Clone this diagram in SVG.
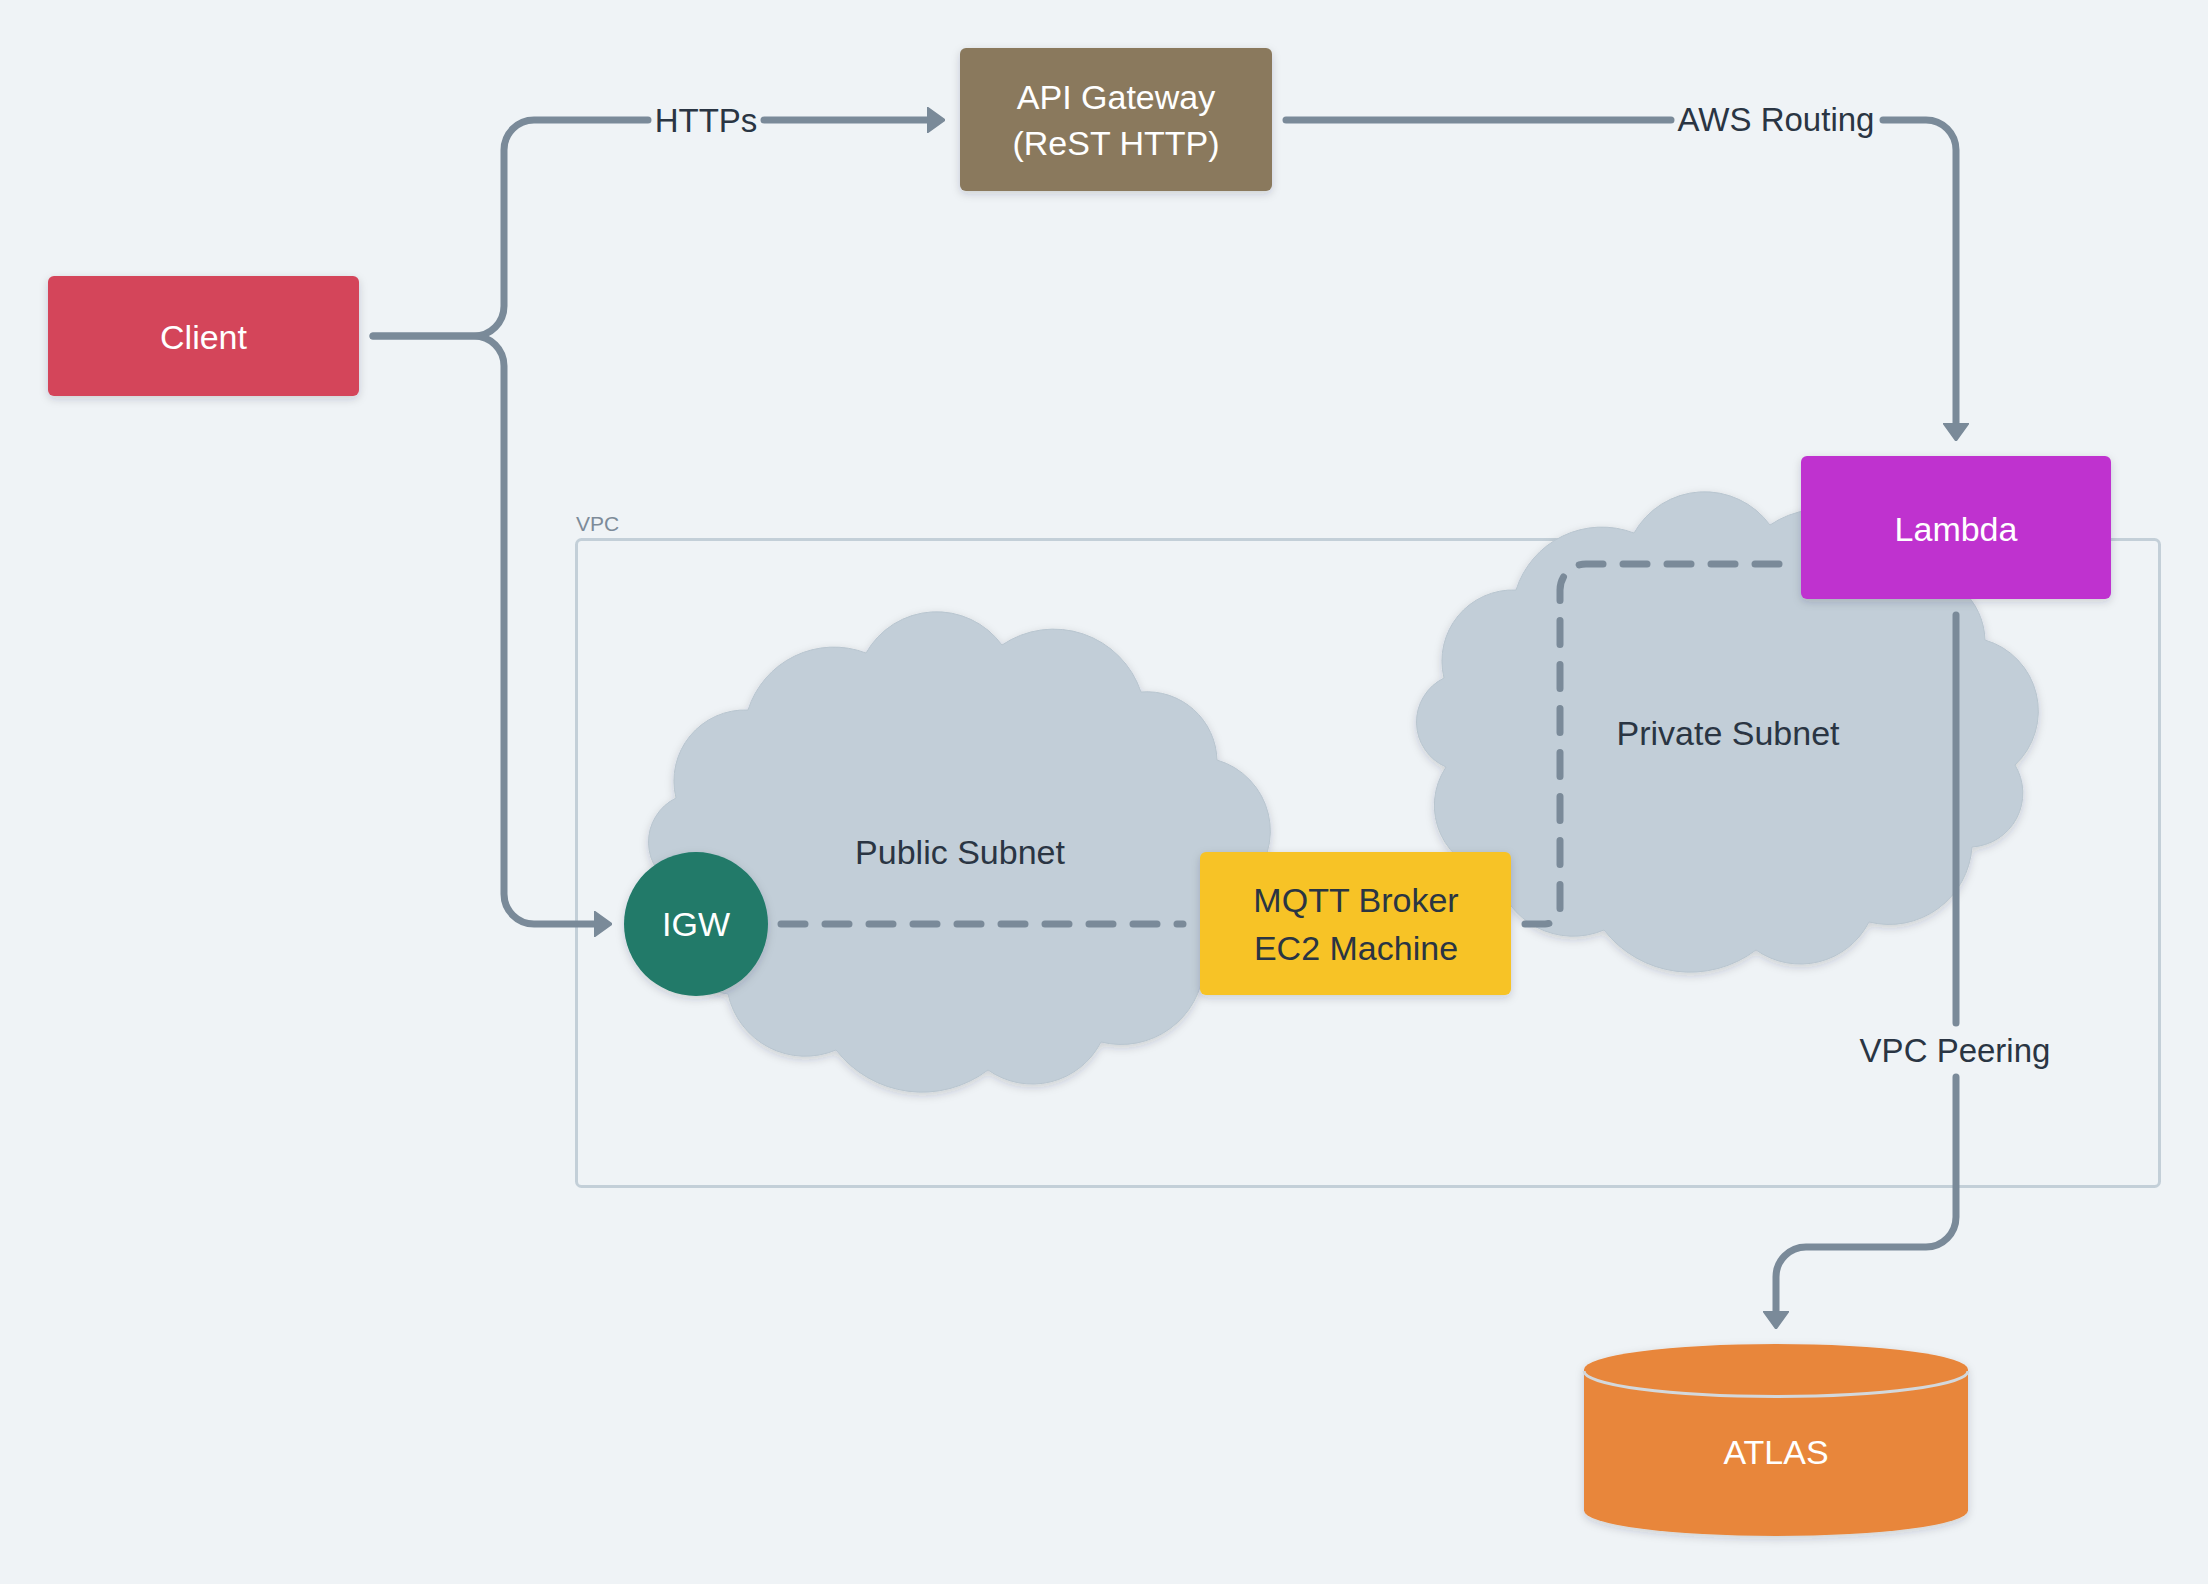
<svg xmlns="http://www.w3.org/2000/svg" xmlns:xlink="http://www.w3.org/1999/xlink" width="2208" height="1584" viewBox="0 0 2208 1584">
<defs>
<style>
.lbl{font-family:"Liberation Sans",Arial,sans-serif;font-size:34px;text-anchor:middle;fill:#2a3543}
.wht{fill:#ffffff}
.elbl{font-family:"Liberation Sans",Arial,sans-serif;font-size:33px;text-anchor:middle;fill:#2a3543}
.vpclbl{font-family:"Liberation Sans",Arial,sans-serif;font-size:21px;fill:#7d8b99}
.conn{fill:none;stroke:#7a8a99;stroke-width:7;stroke-linecap:round;stroke-linejoin:round}
.dash{stroke-dasharray:24 20}
.cloud{fill:#c2ced8;stroke:#b8c5cf;stroke-width:1}
</style>
<filter id="sh" x="-15%" y="-15%" width="130%" height="140%">
<feDropShadow dx="0" dy="3" stdDeviation="4" flood-color="#1f2a36" flood-opacity="0.18"/>
</filter>
<marker id="arr" markerUnits="userSpaceOnUse" viewBox="0 0 18 26" refX="12" refY="13" markerWidth="18" markerHeight="26" orient="auto">
<path d="M0,0 L18,13 L0,26 Z" fill="#7a8a99" stroke="#7a8a99" stroke-width="1.5" stroke-linejoin="round"/>
</marker>
<path id="cloudShape" d="M 866 653 A 81 81 0 0 1 1002 645 A 92 92 0 0 1 1141 692 A 70 70 0 0 1 1217 760 A 74 74 0 0 1 1247 885 A 54 54 0 0 1 1204 967 A 83 83 0 0 1 1101 1042 A 77 77 0 0 1 988 1070 A 109 109 0 0 1 836 1050 A 79 79 0 0 1 728 994 A 69 69 0 0 1 678 887 A 49 49 0 0 1 676 798 A 71 71 0 0 1 748 710 A 90 90 0 0 1 866 653 Z"/>
</defs>
<rect x="0" y="0" width="2208" height="1584" fill="#eff3f6"/>

<g id="vpc">
<text class="vpclbl" x="576" y="531">VPC</text>
<rect x="576.5" y="539.5" width="1583" height="647" rx="5" fill="none" stroke="#c3cfd8" stroke-width="3"/>
</g>

<g id="public-subnet">
<use xlink:href="#cloudShape" class="cloud" filter="url(#sh)"/>
<text class="lbl" x="960" y="864">Public Subnet</text>
</g>

<g id="private-subnet">
<use xlink:href="#cloudShape" class="cloud" filter="url(#sh)" transform="translate(768,-120)"/>
<text class="lbl" x="1728" y="745">Private Subnet</text>
</g>

<g id="connectors">
<path class="conn" d="M 373 336 H 474 A 30 30 0 0 0 504 306 V 150 A 30 30 0 0 1 534 120 H 648"/>
<path class="conn" d="M 764 120 H 939" marker-end="url(#arr)"/>
<text class="elbl" x="706" y="132">HTTPs</text>
<path class="conn" d="M 373 336 H 474 A 30 30 0 0 1 504 366 V 894 A 30 30 0 0 0 534 924 H 606" marker-end="url(#arr)"/>
<path class="conn" d="M 1286 120 H 1671"/>
<path class="conn" d="M 1883 120 H 1926 A 30 30 0 0 1 1956 150 V 435" marker-end="url(#arr)"/>
<text class="elbl" x="1776" y="131">AWS Routing</text>
<path class="conn" d="M 1956 615 V 1023"/>
<path class="conn" d="M 1956 1077 V 1217 A 30 30 0 0 1 1926 1247 H 1806 A 30 30 0 0 0 1776 1277 V 1323" marker-end="url(#arr)"/>
<text class="elbl" x="1955" y="1062">VPC Peering</text>
<path class="conn dash" d="M 781 924 H 1183"/>
<path class="conn dash" d="M 1525 924 H 1545 A 15 15 0 0 0 1560 909 V 590 A 26 26 0 0 1 1586 564 H 1787"/>
</g>

<g id="client">
<rect x="48" y="276" width="311" height="120" rx="6" fill="#d4455a" filter="url(#sh)"/>
<text class="lbl wht" x="203.5" y="349">Client</text>
</g>

<g id="api-gateway">
<rect x="960" y="48" width="312" height="143" rx="6" fill="#8a795d" filter="url(#sh)"/>
<text class="lbl wht" x="1116" y="109">API Gateway</text>
<text class="lbl wht" x="1116" y="155">(ReST HTTP)</text>
</g>

<g id="lambda">
<rect x="1801" y="456" width="310" height="143" rx="6" fill="#bf33cf" filter="url(#sh)"/>
<text class="lbl wht" x="1956" y="541">Lambda</text>
</g>

<g id="igw">
<circle cx="696" cy="924" r="72" fill="#207a69" filter="url(#sh)"/>
<text class="lbl wht" x="696" y="936">IGW</text>
</g>

<g id="mqtt-broker">
<rect x="1200" y="852" width="311" height="143" rx="6" fill="#f7c325" filter="url(#sh)"/>
<text class="lbl" x="1356" y="912">MQTT Broker</text>
<text class="lbl" x="1356" y="960">EC2 Machine</text>
</g>

<g id="atlas">
<path d="M 1584 1369.5 A 192 25.5 0 0 1 1968 1369.5 V 1510.5 A 192 25.5 0 0 1 1584 1510.5 Z" fill="#e8863b" filter="url(#sh)"/>
<path d="M 1584 1371 A 192 25.5 0 0 0 1968 1371" fill="none" stroke="#d3d8dc" stroke-width="3"/>
<text class="lbl wht" x="1776" y="1464">ATLAS</text>
</g>
</svg>
